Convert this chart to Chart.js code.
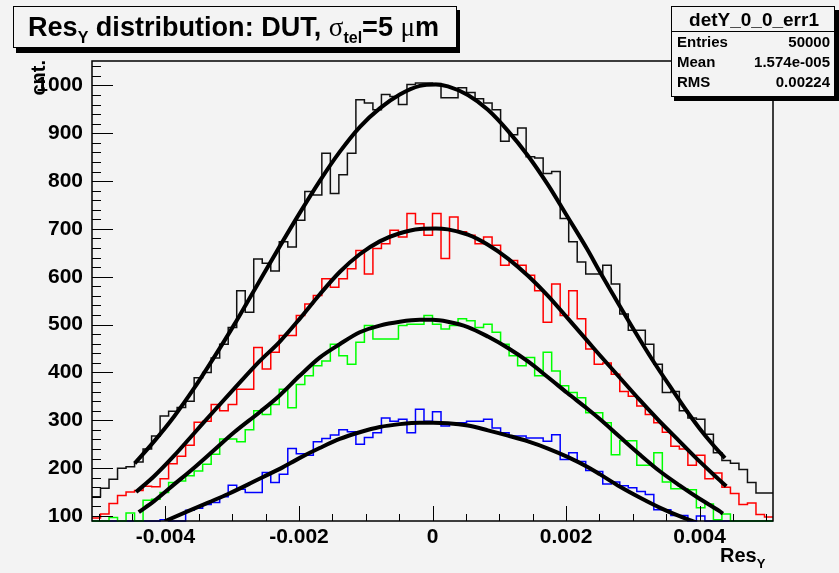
<!DOCTYPE html>
<html>
<head>
<meta charset="utf-8">
<script src="https://cdn.jsdelivr.net/npm/chart.js@4.4.1/dist/chart.umd.min.js"></script>
<style>
  html, body { margin: 0; padding: 0; background: #f3f3f3; }
  #wrap { width: 839px; height: 573px; }
</style>
</head>
<body>
<div id="wrap"><canvas id="resChart" width="839" height="573"></canvas></div>
<script>
// --- DATA ---

// histogram axis range and binning
const X_MIN = -0.0051;
const X_MAX = 0.0051;
const Y_MIN = 89.5;
const Y_MAX = 1051;

const X_TICKS = [-0.004, -0.002, 0, 0.002, 0.004];
const X_TICK_LABELS = ['-0.004', '-0.002', '0', '0.002', '0.004'];
const Y_TICKS = [100, 200, 300, 400, 500, 600, 700, 800, 900, 1000];

// bin contents, 80 bins each
const BLACK_HIST = [
  140, 158, 177, 200, 203, 213, 240, 267, 309, 319,
  327, 340, 389, 400, 430, 459, 494, 571, 526, 637,
  628, 612, 673, 662, 718, 778, 771, 858, 774, 813,
  858, 970, 963, 949, 981, 977, 960, 1002, 1005, 1005,
  1004, 974, 974, 995, 985, 972, 963, 949, 883, 897,
  911, 851, 848, 816, 820, 722, 673, 631, 606, 606,
  624, 585, 522, 488, 488, 459, 417, 358, 360, 320,
  305, 302, 271, 232, 216, 210, 197, 170, 148, 148
];
const RED_HIST = [
  96, 104, 126, 143, 150, 153, 162, 161, 178, 209,
  225, 248, 296, 298, 333, 320, 333, 365, 365, 452,
  407, 442, 477, 477, 519, 543, 561, 596, 578, 596,
  617, 655, 606, 659, 669, 697, 683, 732, 711, 687,
  732, 638, 725, 694, 687, 669, 683, 666, 624, 634,
  624, 603, 571, 505, 585, 519, 571, 512, 449, 417,
  420, 396, 360, 350, 330, 312, 295, 275, 246, 240,
  206, 227, 178, 190, 160, 147, 124, 127, 103, 98
];
const GREEN_HIST = [
  85, 85, 97, 85, 106, 88, 133, 135, 149, 170,
  173, 184, 194, 208, 229, 261, 261, 255, 280, 320,
  312, 333, 365, 326, 375, 393, 414, 424, 459, 435,
  417, 463, 498, 470, 470, 470, 498, 501, 501, 519,
  501, 491, 498, 512, 508, 494, 501, 484, 459, 435,
  414, 431, 393, 442, 403, 372, 358, 347, 316, 316,
  295, 228, 257, 257, 206, 206, 232, 171, 157, 157,
  155, 117, 125, 92, 104, 88, 85, 85, 85, 85
];
const BLUE_HIST = [
  80, 80, 80, 80, 80, 80, 80, 80, 92, 86,
  86, 112, 116, 124, 128, 140, 164, 156, 149, 149,
  191, 170, 187, 241, 230, 227, 255, 262, 269, 280,
  276, 250, 264, 274, 305, 298, 302, 274, 323, 298,
  318, 288, 295, 295, 298, 298, 302, 284, 274, 267,
  267, 263, 263, 256, 270, 218, 232, 214, 195, 193,
  167, 171, 163, 159, 151, 145, 113, 113, 101, 101,
  86, 100, 80, 80, 80, 80, 80, 80, 80, 80
];

// fitted curves, points
const BLACK_FIT_X = [-0.00446, -0.00417, -0.00387, -0.00357, -0.00327, -0.00297, -0.00267, -0.00229, -0.00199, -0.00169, -0.00139, -0.00109, -0.00079, -0.00049, -0.00019, 0.00005, 0.00023, 0.00053, 0.00083, 0.00113, 0.00143, 0.00173, 0.00202, 0.00232, 0.0025, 0.0027, 0.003, 0.0033, 0.0036, 0.0038, 0.004, 0.0042, 0.00438];
const BLACK_FIT_Y = [210, 256, 308, 367, 432, 500, 572, 663, 733, 800, 861, 913, 952, 981, 999, 1002, 998, 980, 949, 905, 853, 792, 726, 657, 612, 564, 493, 425, 362, 321, 283, 249, 221];

const RED_FIT_X = [-0.00444, -0.00417, -0.00387, -0.00357, -0.00327, -0.00297, -0.0026, -0.00229, -0.00199, -0.00169, -0.00139, -0.00109, -0.00079, -0.00049, -0.00019, 0.00005, 0.00023, 0.00053, 0.00083, 0.00113, 0.00143, 0.00173, 0.00202, 0.00232, 0.0025, 0.0028, 0.0031, 0.0034, 0.0037, 0.004, 0.0043, 0.0044];
const RED_FIT_Y = [150, 183, 226, 273, 320, 366, 422, 464, 512, 563, 610, 647, 674, 691, 700, 701, 699, 688, 667, 638, 602, 560, 514, 466, 437, 390, 343, 298, 256, 214, 175, 162];

const GREEN_FIT_X = [-0.0044, -0.00417, -0.00387, -0.00357, -0.00327, -0.00297, -0.00258, -0.00229, -0.00199, -0.00169, -0.00139, -0.00109, -0.00079, -0.00049, -0.00019, 0, 0.00023, 0.00053, 0.00083, 0.00113, 0.00143, 0.00173, 0.00202, 0.00232, 0.00251, 0.0028, 0.0031, 0.0034, 0.0037, 0.004, 0.0043, 0.00435];
const GREEN_FIT_Y = [108, 131, 166, 201, 238, 275, 318, 352, 393, 431, 459, 484, 498, 506, 510, 510, 506, 495, 475, 451, 423, 390, 357, 324, 302, 266, 229, 194, 164, 136, 110, 105];

const BLUE_FIT_X = [-0.00401, -0.00366, -0.00336, -0.00306, -0.00276, -0.00256, -0.00228, -0.00198, -0.00169, -0.00139, -0.00109, -0.00079, -0.00049, -0.00019, 0.00001, 0.00023, 0.00053, 0.00083, 0.00113, 0.00143, 0.00173, 0.00203, 0.00233, 0.00251, 0.00281, 0.00311, 0.00341, 0.00371, 0.00396];
const BLUE_FIT_Y = [89, 110, 128, 146, 166, 180, 199, 222, 242, 261, 275, 286, 292, 295, 295, 294, 289, 279, 268, 256, 241, 223, 202, 187, 161, 138, 117, 99, 86];

// --- HELPERS ---

const SANS = '"Liberation Sans", Arial, Helvetica, sans-serif';

// bin left edges plus the closing edge, values below the frame drawn on it (like ROOT)
function histPoints(counts) {
  const w = (X_MAX - X_MIN) / counts.length;
  const pts = counts.map((v, i) => ({ x: X_MIN + i * w, y: Math.max(v, Y_MIN) }));
  pts.push({ x: X_MAX, y: Math.max(counts[counts.length - 1], Y_MIN) });
  return pts;
}

function fitPoints(xs, ys) {
  return xs.map((x, i) => ({ x: x, y: ys[i] }));
}

function histSet(counts, color, width) {
  return {
    data: histPoints(counts),
    borderColor: color,
    borderWidth: width,
    stepped: 'before',
    pointRadius: 0,
    fill: false,
    order: 2,
    clip: { left: 0, top: 0, right: 0, bottom: 1 }
  };
}

function fitSet(xs, ys) {
  return {
    data: fitPoints(xs, ys),
    borderColor: '#000',
    borderWidth: 4,
    cubicInterpolationMode: 'monotone',
    pointRadius: 0,
    fill: false,
    order: 1
  };
}

// text made of pieces with different fonts / offsets
function drawRich(ctx, parts, x, base) {
  parts.forEach(p => {
    ctx.font = p.font;
    ctx.fillText(p.t, x, base + (p.dy || 0));
    x += ctx.measureText(p.t).width;
  });
}

function richWidth(ctx, parts) {
  let w = 0;
  parts.forEach(p => { ctx.font = p.font; w += ctx.measureText(p.t).width; });
  return w;
}

// --- ROOT STYLE FRAME, TICKS, BOXES ---

const rootStyle = {
  id: 'rootStyle',
  beforeDraw(chart) {
    const ctx = chart.ctx;
    ctx.save();
    ctx.fillStyle = '#f3f3f3';
    ctx.fillRect(0, 0, chart.width, chart.height);
    ctx.restore();
  },
  afterDatasetsDraw(chart) {
    const { ctx, chartArea: a, scales: { x, y } } = chart;
    ctx.save();
    ctx.strokeStyle = '#000';
    ctx.lineWidth = 1;
    ctx.beginPath();
    // y ticks every 20, long ones every 100
    for (let v = 100; v <= Y_MAX; v += 20) {
      const py = Math.round(y.getPixelForValue(v)) + 0.5;
      const len = v % 100 === 0 ? 21 : 9;
      ctx.moveTo(a.left, py);
      ctx.lineTo(a.left + len, py);
    }
    // x ticks every 0.0005, long ones every 0.002
    for (let i = -10; i <= 10; i++) {
      const px = Math.round(x.getPixelForValue(i * 0.0005)) + 0.5;
      const len = i % 4 === 0 ? 15 : 7;
      ctx.moveTo(px, a.bottom);
      ctx.lineTo(px, a.bottom - len);
    }
    ctx.stroke();
    ctx.lineWidth = 1.5;
    ctx.strokeRect(a.left, a.top, a.right - a.left, a.bottom - a.top);
    ctx.restore();
  },
  afterDraw(chart) {
    const { ctx, chartArea: a } = chart;
    ctx.save();
    ctx.fillStyle = '#000';
    ctx.textBaseline = 'alphabetic';

    // title box with shadow
    ctx.fillStyle = '#000';
    ctx.fillRect(16, 10, 444, 43);
    ctx.fillStyle = '#f3f3f3';
    ctx.fillRect(13, 6, 444, 42);
    ctx.strokeStyle = '#000';
    ctx.lineWidth = 1;
    ctx.strokeRect(13.5, 6.5, 443, 41);

    let fs = 28;
    const mk = s => [
      { t: 'Res', font: `bold ${s}px ${SANS}` },
      { t: 'Y', font: `bold ${Math.round(s * 0.6)}px ${SANS}`, dy: 7 },
      { t: ' distribution: DUT, ', font: `bold ${s}px ${SANS}` },
      { t: 'σ', font: `${s}px "Liberation Serif", serif` },
      { t: 'tel', font: `bold ${Math.round(s * 0.6)}px ${SANS}`, dy: 7 },
      { t: '=5 ', font: `bold ${s}px ${SANS}` },
      { t: 'μ', font: `${s}px "Liberation Serif", serif` },
      { t: 'm', font: `bold ${s}px ${SANS}` }
    ];
    fs = fs * 412 / richWidth(ctx, mk(fs));
    ctx.fillStyle = '#000';
    drawRich(ctx, mk(fs), 28, 36);

    // stats box with shadow
    ctx.fillStyle = '#000';
    ctx.fillRect(674, 10, 165, 91);
    ctx.fillStyle = '#f3f3f3';
    ctx.fillRect(671, 6, 164, 91);
    ctx.strokeRect(671.5, 6.5, 163, 90);
    ctx.beginPath();
    ctx.moveTo(671, 31.5);
    ctx.lineTo(835, 31.5);
    ctx.stroke();
    ctx.fillStyle = '#000';
    ctx.font = `bold 19px ${SANS}`;
    ctx.textAlign = 'center';
    ctx.fillText('detY_0_0_err1', 754, 26);
    ctx.font = `bold 15px ${SANS}`;
    const rows = [['Entries', '50000'], ['Mean', '1.574e-005'], ['RMS', '0.00224']];
    rows.forEach((r, i) => {
      ctx.textAlign = 'left';
      ctx.fillText(r[0], 677, 47 + i * 20);
      ctx.textAlign = 'right';
      ctx.fillText(r[1], 830, 47 + i * 20);
    });

    // x axis title
    ctx.textAlign = 'left';
    drawRich(ctx, [
      { t: 'Res', font: `bold 20px ${SANS}` },
      { t: 'Y', font: `bold 13px ${SANS}`, dy: 6 }
    ], 720, 562);

    // y axis title, rotated, ending at the top of the frame
    ctx.save();
    ctx.translate(45, a.top - 1);
    ctx.rotate(-Math.PI / 2);
    ctx.font = `bold 20px ${SANS}`;
    ctx.textAlign = 'right';
    ctx.fillText('cnt.', 0, 0);
    ctx.restore();

    ctx.restore();
  }
};

// --- CHART ---

const tickFont = { family: SANS, weight: 'bold', size: 21 };

new Chart(document.getElementById('resChart'), {
  type: 'line',
  data: {
    datasets: [
      histSet(BLACK_HIST, '#111', 1.5),
      histSet(RED_HIST, '#ff0000', 1.5),
      histSet(GREEN_HIST, '#00ff00', 1.5),
      histSet(BLUE_HIST, '#0000ff', 1.5),
      fitSet(BLACK_FIT_X, BLACK_FIT_Y),
      fitSet(RED_FIT_X, RED_FIT_Y),
      fitSet(GREEN_FIT_X, GREEN_FIT_Y),
      fitSet(BLUE_FIT_X, BLUE_FIT_Y)
    ]
  },
  options: {
    responsive: false,
    animation: false,
    devicePixelRatio: 1,
    layout: { padding: { left: 0, top: 61, right: 66, bottom: 0 } },
    plugins: {
      legend: { display: false },
      tooltip: { enabled: false },
      title: { display: false }
    },
    scales: {
      x: {
        type: 'linear',
        min: X_MIN,
        max: X_MAX,
        afterBuildTicks: s => { s.ticks = X_TICKS.map(v => ({ value: v })); },
        afterFit: s => { s.height = 52; },
        grid: { display: false, drawTicks: false },
        border: { display: false },
        ticks: {
          color: '#000',
          font: tickFont,
          padding: 4,
          maxRotation: 0,
          autoSkip: false,
          callback: v => X_TICK_LABELS[X_TICKS.indexOf(v)]
        }
      },
      y: {
        type: 'linear',
        min: Y_MIN,
        max: Y_MAX,
        afterBuildTicks: s => { s.ticks = Y_TICKS.map(v => ({ value: v })); },
        afterFit: s => { s.width = 92; },
        grid: { display: false, drawTicks: false },
        border: { display: false },
        ticks: {
          color: '#000',
          font: tickFont,
          padding: 9,
          autoSkip: false,
          callback: v => String(v)
        }
      }
    }
  },
  plugins: [rootStyle]
});
</script>
</body>
</html>
